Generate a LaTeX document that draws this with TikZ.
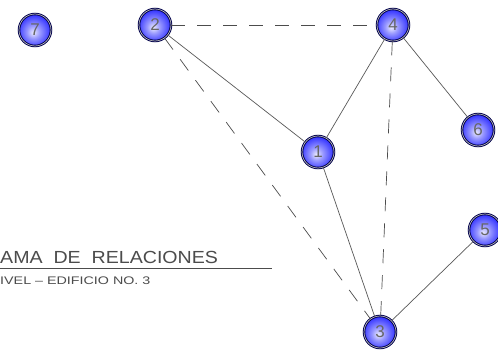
\documentclass[tikz,border=0pt]{standalone}
\usepackage{fontspec}
\setmainfont{Liberation Sans}
\pgfdeclareradialshading{myball}{\pgfpoint{-3bp}{-4bp}}{%
  color(0bp)=(white!92!blue);
  color(10bp)=(blue!40!white);
  color(28bp)=(blue!85!white);
  color(42bp)=(blue!90!black);
  color(50bp)=(blue!75!black)}
\tikzset{
  ball/.style={circle, minimum size=32pt, inner sep=0pt, shading=myball,
    draw=black!70!blue, line width=0.9pt,
    double=gray!55, double distance=0.7pt,
    font=\fontsize{17}{17}\selectfont, text=black!60},
  solidedge/.style={draw=black!65, line width=0.7pt},
  dashedge/.style={draw=black!70, line width=0.7pt, dash pattern=on 14pt off 12pt},
}
\begin{document}
\begin{tikzpicture}[x=1pt,y=-1pt]
\useasboundingbox[fill=white] (0,0) rectangle (498,356);
\node[ball] (n7) at (35,30) {7};
\node[ball] (n2) at (155,25) {2};
\node[ball] (n4) at (393,25) {4};
\node[ball] (n1) at (318,152) {1};
\node[ball] (n6) at (478,130) {6};
\node[ball] (n5) at (485,230) {5};
\node[ball] (n3) at (380,332) {3};
\draw[solidedge] (n2) -- (n1);
\draw[solidedge] (n1) -- (n4);
\draw[solidedge] (n4) -- (n6);
\draw[solidedge] (n1) -- (n3);
\draw[solidedge] (n3) -- (n5);
\draw[dashedge] (n2) -- (n4);
\draw[dashedge] (n2) -- (n3);
\draw[dashedge] (n4) -- (n3);
\node[anchor=base west, inner sep=0pt, text=black!70] (title) at (0,263)
  {\scalebox{1.12}[1]{\fontsize{17.5}{17.5}\selectfont AMA\ \ DE\ \ RELACIONES}};
\coordinate (ulA) at (0,268);
\coordinate (ulB) at (272,268);
\draw[black!70, line width=0.8pt] (ulA) -- (ulB);
\node[anchor=base west, inner sep=0pt, text=black!70] (sub) at (0,284)
  {\scalebox{1.3}[1]{\fontsize{11}{11}\selectfont IVEL\ –\ EDIFICIO\ NO.\ 3}};
\end{tikzpicture}
\end{document}
